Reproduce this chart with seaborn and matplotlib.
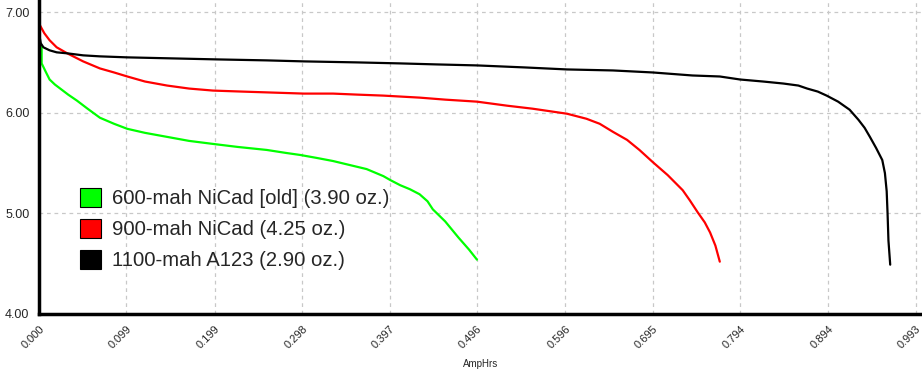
import numpy as np
import pandas as pd
import matplotlib
matplotlib.use('Agg')
import matplotlib.pyplot as plt
import seaborn as sns
from matplotlib.patches import Patch

# 값은 그림에서 읽은 근사치
green_x = [0.000, 0.002, 0.003, 0.003, 0.008, 0.012, 0.018, 0.024, 0.033, 0.043, 0.055, 0.069, 0.085,
           0.100, 0.120, 0.145, 0.170, 0.197, 0.225, 0.258, 0.280, 0.296, 0.315, 0.333, 0.352, 0.371,
           0.390, 0.398, 0.409, 0.420, 0.431, 0.440, 0.446, 0.460, 0.475, 0.487, 0.496]
green_y = [6.72, 6.68, 6.65, 6.49, 6.40, 6.33, 6.28, 6.24, 6.18, 6.12, 6.04, 5.95, 5.89,
           5.84, 5.80, 5.76, 5.72, 5.69, 5.66, 5.63, 5.60, 5.58, 5.55, 5.52, 5.48, 5.44,
           5.37, 5.33, 5.28, 5.24, 5.19, 5.12, 5.04, 4.92, 4.76, 4.64, 4.54]

red_x = [0.000, 0.001, 0.006, 0.012, 0.020, 0.032, 0.050, 0.069, 0.085, 0.100, 0.120, 0.145, 0.170,
         0.197, 0.230, 0.265, 0.300, 0.333, 0.360, 0.390, 0.431, 0.460, 0.496, 0.530, 0.559, 0.598,
         0.620, 0.635, 0.650, 0.666, 0.680, 0.695, 0.712, 0.729, 0.737, 0.746, 0.754, 0.760, 0.766, 0.771]
red_y = [6.90, 6.87, 6.79, 6.72, 6.65, 6.59, 6.51, 6.44, 6.40, 6.36, 6.31, 6.27, 6.24,
         6.22, 6.21, 6.20, 6.19, 6.19, 6.18, 6.17, 6.15, 6.13, 6.11, 6.07, 6.04, 5.99,
         5.94, 5.89, 5.81, 5.73, 5.63, 5.51, 5.38, 5.23, 5.13, 5.01, 4.91, 4.81, 4.68, 4.52]

black_x = [0.000, 0.001, 0.002, 0.005, 0.012, 0.020, 0.032, 0.050, 0.069, 0.100, 0.150, 0.200, 0.258,
           0.300, 0.360, 0.409, 0.450, 0.496, 0.550, 0.598, 0.650, 0.695, 0.740, 0.771, 0.794, 0.820,
           0.843, 0.860, 0.870, 0.882, 0.892, 0.905, 0.918, 0.928, 0.935, 0.941, 0.948, 0.955, 0.958,
           0.960, 0.961, 0.962, 0.964]
black_y = [6.66, 6.74, 6.69, 6.65, 6.62, 6.60, 6.59, 6.57, 6.56, 6.55, 6.54, 6.53, 6.52,
           6.51, 6.50, 6.49, 6.48, 6.47, 6.45, 6.43, 6.42, 6.40, 6.37, 6.36, 6.33, 6.31,
           6.29, 6.27, 6.24, 6.21, 6.17, 6.11, 6.03, 5.93, 5.85, 5.76, 5.65, 5.53, 5.40,
           5.22, 5.00, 4.73, 4.49]

labels = ['600-mah NiCad [old] (3.90 oz.)', '900-mah NiCad (4.25 oz.)', '1100-mah A123 (2.90 oz.)']
colors = ['#00ff00', '#ff0000', '#000000']
xticks = [0.000, 0.099, 0.199, 0.298, 0.397, 0.496, 0.596, 0.695, 0.794, 0.894, 0.993]
yticks = [4.00, 5.00, 6.00, 7.00]

df = pd.concat([
    pd.DataFrame({'AmpHrs': green_x, 'V': green_y, 'pack': labels[0]}),
    pd.DataFrame({'AmpHrs': red_x, 'V': red_y, 'pack': labels[1]}),
    pd.DataFrame({'AmpHrs': black_x, 'V': black_y, 'pack': labels[2]}),
])

sns.set_style('white')
plt.rcParams['font.family'] = ['Liberation Sans', 'DejaVu Sans']

fig = plt.figure(figsize=(9.22, 3.70), dpi=100)
ax = fig.add_axes([39 / 922, 56 / 370, 1 - 39 / 922, 1 - 56 / 370])

sns.lineplot(data=df, x='AmpHrs', y='V', hue='pack', palette=dict(zip(labels, colors)),
             estimator=None, sort=False, linewidth=1.6, legend=False, ax=ax)

ax.set_xlim(0, 1.0)
ax.set_ylim(4.0, 7.12)
ax.set_xticks(xticks)
ax.set_xticklabels([f'{t:.3f}' for t in xticks], rotation=45, ha='right',
                   rotation_mode='anchor', fontsize=8)
ax.set_xticks([(a + b) / 2 for a, b in zip(xticks[:-1], xticks[1:])], minor=True)
ax.set_yticks(yticks)
ax.set_yticklabels([f'{t:.2f}' for t in yticks], fontsize=9)
ax.set_yticks([4.5, 5.5, 6.5], minor=True)
ax.tick_params(which='major', direction='out', length=5, width=2, color='black', pad=2)
ax.tick_params(which='minor', direction='out', length=3, width=2, color='black')
ax.grid(True, which='major', color='#c8c8c8', linestyle=(0, (3, 3)), linewidth=0.9)
for s in ['top', 'right']:
    ax.spines[s].set_visible(False)
for s in ['left', 'bottom']:
    ax.spines[s].set_color('black')
    ax.spines[s].set_linewidth(2.5)
ax.set_xlabel('AmpHrs', fontsize=7, labelpad=6)
ax.set_ylabel('')

handles = [Patch(facecolor=c, edgecolor='black', linewidth=0.8) for c in colors]
fig.legend(handles, labels, loc='upper left', bbox_to_anchor=(72 / 922, 1 - 180 / 370),
           frameon=False, fontsize=14.6, handlelength=1.05, handleheight=1.05,
           handletextpad=0.5, labelspacing=0.52, borderaxespad=0)

fig.savefig('out.png', dpi=100)
